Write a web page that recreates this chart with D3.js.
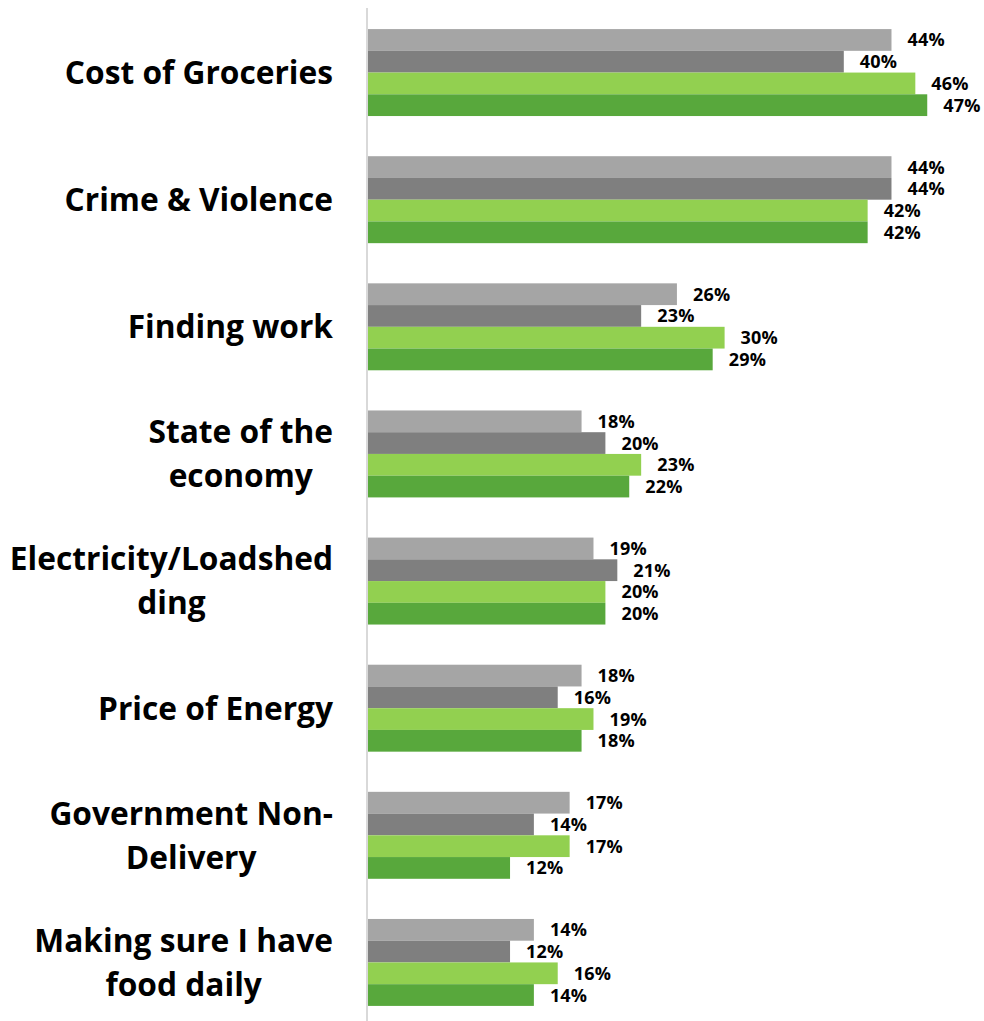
<!DOCTYPE html>
<html>
<head>
<meta charset="utf-8">
<script src="https://cdn.jsdelivr.net/npm/d3@7"></script>
<style>
  html, body { margin: 0; padding: 0; background: #fff; }
  svg { display: block; }
</style>
</head>
<body>
<svg id="chart" width="984" height="1021"></svg>
<script>
// Survey concerns: share of respondents naming each issue, four waves
const categories = [
  "Cost of Groceries",
  "Crime & Violence",
  "Finding work",
  "State of the economy",
  "Electricity/Loadshedding",
  "Price of Energy",
  "Government Non-Delivery",
  "Making sure I have food daily"
];
// Line breaks used for the category labels
const categoryLines = [
  ["Cost of Groceries"],
  ["Crime & Violence"],
  ["Finding work"],
  ["State of the", "economy"],
  ["Electricity/Loadshed", "ding"],
  ["Price of Energy"],
  ["Government Non-", "Delivery"],
  ["Making sure I have", "food daily"]
];
const seriesNames = ["Wave 1", "Wave 2", "Wave 3", "Wave 4"];
const wave1 = [44, 44, 26, 18, 19, 18, 17, 14];
const wave2 = [40, 44, 23, 20, 21, 16, 14, 12];
const wave3 = [46, 42, 30, 23, 20, 19, 17, 16];
const wave4 = [47, 42, 29, 22, 20, 18, 12, 14];
const seriesValues = [wave1, wave2, wave3, wave4];
const seriesColors = ["#a5a5a5", "#7f7f7f", "#92d050", "#58a83c"];

const svg = d3.select("#chart");
const axisX = 367;

const x = d3.scaleLinear().domain([0, 50]).range([axisX, axisX + 596]);
const y = d3.scaleBand()
  .domain(categories)
  .range([9, 1026])
  .paddingInner(0.316)
  .paddingOuter(0.158);
const ySub = d3.scaleBand()
  .domain(seriesNames)
  .range([0, y.bandwidth()]);

const rows = categories.map((c, i) => ({
  category: c,
  lines: categoryLines[i],
  bars: seriesNames.map((s, j) => ({ series: s, value: seriesValues[j][i], color: seriesColors[j] }))
}));

const groups = svg.append("g").selectAll("g.group")
  .data(rows)
  .join("g")
  .attr("class", "group")
  .attr("transform", d => `translate(0,${y(d.category)})`);

groups.selectAll("rect")
  .data(d => d.bars)
  .join("rect")
  .attr("x", x(0))
  .attr("y", d => ySub(d.series))
  .attr("width", d => x(d.value) - x(0))
  .attr("height", ySub.bandwidth())
  .attr("fill", d => d.color);

groups.selectAll("text.value")
  .data(d => d.bars)
  .join("text")
  .attr("class", "value")
  .attr("x", d => x(d.value) + 16)
  .attr("y", d => ySub(d.series) + ySub.bandwidth() / 2)
  .attr("dy", "0.36em")
  .attr("font-family", "'Open Sans', sans-serif")
  .attr("font-weight", 700)
  .attr("font-size", 18)
  .attr("letter-spacing", 0.2)
  .attr("fill", "#000")
  .text(d => d.value + "%");

// Vertical category axis line
svg.append("line")
  .attr("x1", axisX).attr("x2", axisX)
  .attr("y1", 8).attr("y2", 1021)
  .attr("stroke", "#d9d9d9")
  .attr("stroke-width", 2);

// Category labels: block right-aligned, lines centred on each other
const labelRight = 333;
const lineHeight = 44;
const labels = svg.append("g").selectAll("g.label")
  .data(rows)
  .join("g")
  .attr("class", "label");

labels.each(function (d) {
  const g = d3.select(this);
  const cy = y(d.category) + y.bandwidth() / 2;
  const n = d.lines.length;
  const texts = g.selectAll("text")
    .data(d.lines)
    .join("text")
    .attr("font-family", "'Open Sans', sans-serif")
    .attr("font-weight", 700)
    .attr("font-size", 31.7)
    .attr("fill", "#000")
    .attr("text-anchor", "middle")
    .attr("y", (t, k) => cy + (k - (n - 1) / 2) * lineHeight)
    .attr("dy", "0.36em")
    .text(t => t);
  let maxW = 0;
  texts.each(function () { maxW = Math.max(maxW, this.getComputedTextLength()); });
  texts.attr("x", labelRight - maxW / 2);
});
</script>
</body>
</html>
